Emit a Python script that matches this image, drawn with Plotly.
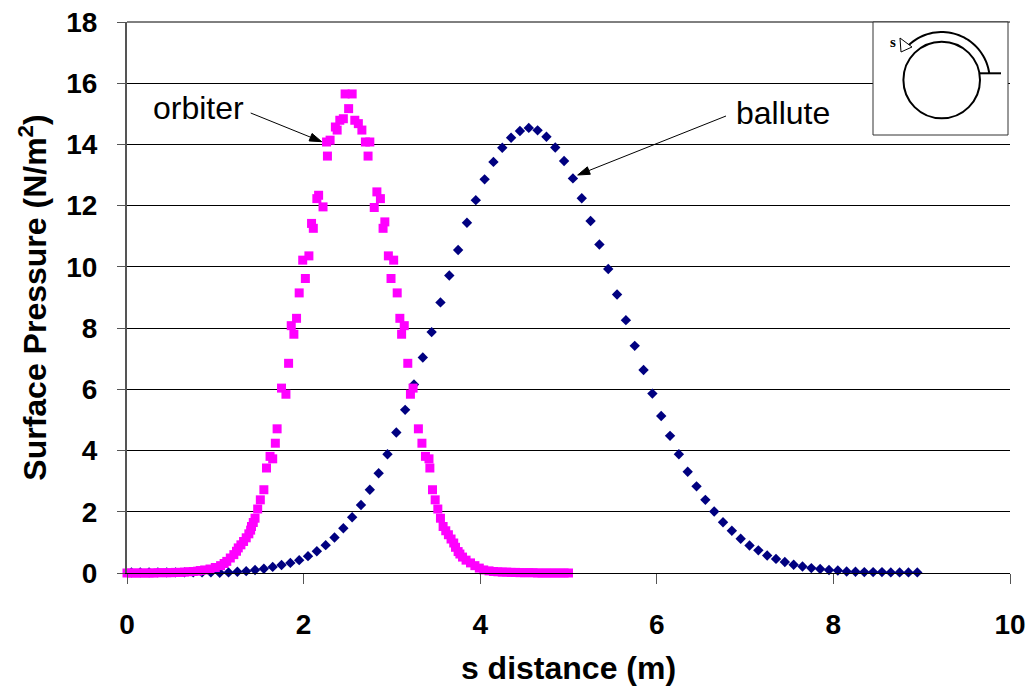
import math
import plotly.graph_objects as go

# ---------------- data ----------------
orbiter_s = [0.00, 0.05, 0.10, 0.15, 0.20, 0.25, 0.30, 0.35, 0.40, 0.45, 0.50, 0.55, 0.60, 0.65,
             0.70, 0.75, 0.80, 0.83, 0.88, 0.94, 1.00, 1.06, 1.10, 1.13, 1.17, 1.21, 1.24, 1.26,
             1.29, 1.32, 1.35, 1.38, 1.40, 1.41, 1.43, 1.45, 1.48, 1.51, 1.55, 1.58, 1.62, 1.65,
             1.68, 1.70, 1.75, 1.80, 1.83, 1.86, 1.89, 1.92, 1.95, 1.99, 2.02, 2.06, 2.09, 2.11,
             2.15, 2.17, 2.22, 2.26, 2.27, 2.30, 2.36, 2.38, 2.41, 2.45, 2.47, 2.51, 2.55, 2.58,
             2.62, 2.66, 2.70, 2.73, 2.75, 2.80, 2.83, 2.87, 2.90, 2.92, 2.96, 2.99, 3.02, 3.06,
             3.09, 3.11, 3.14, 3.18, 3.21, 3.24, 3.30, 3.34, 3.38, 3.42, 3.43, 3.46, 3.49, 3.52,
             3.55, 3.58, 3.61, 3.64, 3.67, 3.70, 3.72, 3.75, 3.77, 3.80, 3.84, 3.89, 3.94, 3.99,
             4.04, 4.10, 4.15, 4.20, 4.25, 4.30, 4.35, 4.40, 4.45, 4.50, 4.55, 4.60, 4.65, 4.70,
             4.75, 4.80, 4.85, 4.90, 4.95, 5.00]
orbiter_p = [0.00, 0.00, 0.00, 0.00, 0.00, 0.00, 0.00, 0.01, 0.01, 0.01, 0.01, 0.02, 0.02, 0.03,
             0.04, 0.05, 0.06, 0.08, 0.10, 0.13, 0.18, 0.24, 0.31, 0.38, 0.49, 0.60, 0.71, 0.82,
             0.92, 1.03, 1.15, 1.28, 1.40, 1.52, 1.65, 1.79, 2.09, 2.39, 2.72, 3.43, 3.81, 3.73,
             4.24, 4.71, 6.04, 5.84, 6.85, 8.08, 7.80, 8.32, 9.15, 10.22, 9.62, 10.36, 11.42, 11.26,
             12.23, 12.34, 11.96, 14.08, 13.62, 14.14, 14.57, 14.47, 14.79, 14.84, 15.65, 15.17, 15.65, 14.79,
             14.68, 14.47, 14.08, 13.62, 14.08, 11.94, 12.45, 12.23, 11.26, 11.47, 10.36, 9.62, 10.22, 9.15,
             8.32, 7.80, 8.08, 6.85, 5.84, 6.04, 4.71, 4.24, 3.81, 3.73, 3.43, 2.72, 2.39, 2.09,
             1.79, 1.52, 1.38, 1.25, 1.11, 0.98, 0.84, 0.70, 0.62, 0.52, 0.42, 0.33, 0.24, 0.16,
             0.10, 0.07, 0.05, 0.04, 0.03, 0.03, 0.02, 0.02, 0.01, 0.01, 0.01, 0.01, 0.00, 0.00,
             0.00, 0.00, 0.00, 0.00, 0.00, 0.00]

ballute_s = [0.05, 0.15, 0.25, 0.35, 0.45, 0.55, 0.65, 0.75, 0.85, 0.95,
             1.05, 1.15, 1.25, 1.35, 1.45, 1.55, 1.65, 1.75, 1.85, 1.95,
             2.05, 2.15, 2.25, 2.35, 2.45, 2.55, 2.65, 2.75, 2.85, 2.95,
             3.05, 3.15, 3.25, 3.35, 3.45, 3.55, 3.65, 3.75, 3.85, 3.95,
             4.05, 4.15, 4.25, 4.35, 4.45, 4.55, 4.65, 4.75, 4.85, 4.95,
             5.05, 5.15, 5.25, 5.35, 5.45, 5.55, 5.65, 5.75, 5.85, 5.95,
             6.05, 6.15, 6.25, 6.35, 6.45, 6.55, 6.65, 6.75, 6.85, 6.95,
             7.05, 7.15, 7.25, 7.35, 7.45, 7.55, 7.65, 7.75, 7.85, 7.95,
             8.05, 8.15, 8.25, 8.35, 8.45, 8.55, 8.65, 8.75, 8.85, 8.95]
ballute_p = [0.02, 0.02, 0.02, 0.02, 0.02, 0.02, 0.02, 0.02, 0.02, 0.02,
             0.01, 0.02, 0.04, 0.06, 0.10, 0.14, 0.20, 0.26, 0.33, 0.42,
             0.55, 0.71, 0.91, 1.16, 1.46, 1.82, 2.22, 2.72, 3.26, 3.88,
             4.59, 5.33, 6.16, 7.04, 7.87, 8.84, 9.72, 10.55, 11.44, 12.18,
             12.86, 13.43, 13.89, 14.22, 14.44, 14.54, 14.46, 14.25, 13.90, 13.46,
             12.89, 12.24, 11.50, 10.73, 9.93, 9.10, 8.26, 7.42, 6.63, 5.86,
             5.13, 4.48, 3.88, 3.31, 2.83, 2.39, 2.01, 1.66, 1.38, 1.12,
             0.90, 0.74, 0.57, 0.46, 0.36, 0.27, 0.21, 0.16, 0.13, 0.10,
             0.08, 0.05, 0.04, 0.03, 0.03, 0.03, 0.02, 0.02, 0.02, 0.02]

x_ticks = [0, 2, 4, 6, 8, 10]
y_ticks = [0, 2, 4, 6, 8, 10, 12, 14, 16, 18]

# ---------------- layout geometry ----------------
W, H = 1034, 686
ML, MR, MT, MB = 127, 24, 22, 113
PW, PH = W - ML - MR, H - MT - MB
FONT = "Liberation Sans, Arial, sans-serif"


def px(x):  # pixel -> paper x
    return (x - ML) / PW


def py(y):  # pixel -> paper y
    return (H - MB - y) / PH


fig = go.Figure()
fig.add_trace(go.Scatter(
    x=ballute_s, y=ballute_p, mode="markers", name="ballute",
    marker=dict(symbol="diamond", size=8, color="#000080", line=dict(width=0)),
    cliponaxis=False))
fig.add_trace(go.Scatter(
    x=orbiter_s, y=orbiter_p, mode="markers", name="orbiter",
    marker=dict(symbol="square", size=9, color="#FF00FF", line=dict(width=0)),
    cliponaxis=False))

axis_col = "#555555"
fig.update_layout(
    width=W, height=H, autosize=False,
    margin=dict(l=ML, r=MR, t=MT, b=MB, pad=0, autoexpand=False),
    paper_bgcolor="white", plot_bgcolor="white",
    showlegend=False,
    xaxis=dict(range=[0, 10], tickvals=x_ticks, showgrid=False, zeroline=False, automargin=False,
               showline=True, linecolor="black", linewidth=1,
               ticks="outside", ticklen=10, tickcolor=axis_col, tickwidth=1,
               ticklabelstandoff=16,
               tickfont=dict(family=FONT, size=28, color="black", weight="bold"),
               title=dict(text="<b>s distance (m)</b>", standoff=18,
                          font=dict(family=FONT, size=32, color="black"))),
    yaxis=dict(range=[0, 18], tickvals=y_ticks, showgrid=True, gridcolor="black", gridwidth=1,
               zeroline=False, showline=True, linecolor=axis_col, linewidth=2, automargin=False,
               ticks="outside", ticklen=8, tickcolor=axis_col, tickwidth=1,
               ticklabelstandoff=14,
               tickfont=dict(family=FONT, size=28, color="black", weight="bold"),
               title=dict(text="<b>Surface Pressure (N/m<sup>2</sup>)</b>", standoff=10,
                          font=dict(family=FONT, size=32, color="black"))),
)

# top grid line at 18 (the edge grid line is clipped by plotly)
fig.add_shape(type="line", xref="paper", yref="paper", x0=0, x1=1, y0=1, y1=1,
              line=dict(color="black", width=1), layer="above")

# text labels
fig.add_annotation(x=px(198), y=py(108), xref="paper", yref="paper", text="orbiter",
                   xanchor="center", yanchor="middle",
                   showarrow=False, font=dict(family=FONT, size=32, color="black"))
fig.add_annotation(x=px(783), y=py(113), xref="paper", yref="paper", text="ballute",
                   xanchor="center", yanchor="middle",
                   showarrow=False, font=dict(family=FONT, size=32, color="black"))


def arrow(tail, head, length=12.0, half=4.0):
    (tx, ty), (hx, hy) = tail, head
    L = math.hypot(hx - tx, hy - ty)
    dx, dy = (hx - tx) / L, (hy - ty) / L
    bx, by = hx - length * dx, hy - length * dy
    fig.add_shape(type="line", xref="paper", yref="paper", x0=px(tx), y0=py(ty), x1=px(bx), y1=py(by),
                  line=dict(color="black", width=1), layer="above")
    pts = [(hx, hy), (bx - half * dy, by + half * dx), (bx + half * dy, by - half * dx)]
    path = "M " + " L ".join(f"{px(a):.5f},{py(b):.5f}" for a, b in pts) + " Z"
    fig.add_shape(type="path", xref="paper", yref="paper", path=path,
                  line=dict(color="black", width=1), fillcolor="black", layer="above")


arrow((250.7, 113.0), (321.7, 141.7))
arrow((726.0, 116.0), (577.7, 175.0))

# inset sketch (box, body, flow arc, s marker)
fig.add_shape(type="rect", xref="paper", yref="paper", x0=px(873), x1=px(1008), y0=py(135), y1=py(22),
              line=dict(color="#333333", width=1), fillcolor="white", layer="above")
cx, cy, r = 941.7, 80.0, 38.3
fig.add_shape(type="circle", xref="paper", yref="paper", x0=px(cx - r), x1=px(cx + r),
              y0=py(cy + r), y1=py(cy - r), line=dict(color="black", width=2), layer="above")
R = 48.0
pts = []
for k in range(0, 41):
    a = math.radians(8 + (136 - 8) * k / 40)
    pts.append((px(cx + R * math.cos(a)), py(cy - R * math.sin(a))))
path = "M " + " L ".join(f"{a:.5f},{b:.5f}" for a, b in pts)
fig.add_shape(type="path", xref="paper", yref="paper", path=path,
              line=dict(color="black", width=2), layer="above")
fig.add_shape(type="line", xref="paper", yref="paper", x0=px(980), x1=px(1001), y0=py(73.3), y1=py(73.3),
              line=dict(color="black", width=2), layer="above")
tri = [(900, 38), (912, 47), (901, 52)]
tpath = "M " + " L ".join(f"{px(a):.5f},{py(b):.5f}" for a, b in tri) + " Z"
fig.add_shape(type="path", xref="paper", yref="paper", path=tpath,
              line=dict(color="black", width=1), fillcolor="white", layer="above")
fig.add_annotation(x=px(893), y=py(42), xref="paper", yref="paper", text="<b>s</b>", showarrow=False,
                   xanchor="center", yanchor="middle",
                   font=dict(family="Liberation Serif, DejaVu Serif", size=15, color="black"))

fig.write_html(
    "out.html", config={"displayModeBar": False},
    post_script=("document.body.style.margin='0px';"
                 "document.body.style.overflow='hidden';"
                 "document.documentElement.style.overflow='hidden';"))
